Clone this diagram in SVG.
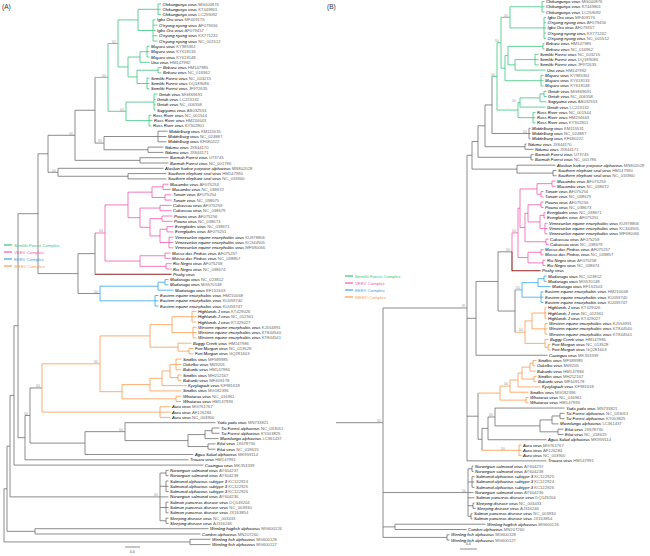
<svg xmlns="http://www.w3.org/2000/svg" width="650" height="556" viewBox="0 0 650 556">
<style>
text{font-family:"Liberation Sans",Arial,sans-serif}
.t{font-size:4.2px;font-style:italic;fill:#000}
.ac{font-style:normal;fill:#6a6a6a}
.bs{font-size:2.6px;fill:#9a9a9a;text-anchor:end}
.lg{font-size:4.3px}
.pl{font-size:6.5px;fill:#333}
.sc{font-size:3.4px;fill:#444}
path{fill:none;stroke-width:0.8}
.gy{stroke:#6f6f6f}.gr{stroke:#3cc47e}.pk{stroke:#ee5aae}.bl{stroke:#37a3e6}.or{stroke:#f99b4e}.dr{stroke:#8e1c1c;stroke-width:1.1}
</style>
<rect width="650" height="556" fill="#fff"/>
<text class="pl" x="2" y="9">(A)</text>
<text class="pl" x="327" y="9">(B)</text>

<g id="connectors-A">
<path class="gr" d="M161 4H158V14.6H161M158 9.3H161M155.5 19.9H153V41.1H157.5M153 25.2H157.5M153 30.5H155.5M153 35.8H157.5M158 9.3H138V30.5H153M149.5 46.4H147V57H149.5M147 51.7H149.5M147 51.7H140V62.3H149.5M161.5 67.6H158V72.9H161.5M149.5 78.2H147V88.8H149.5M147 83.5H149.5M158 70.25H137V83.5H147M140 57H128V76.9H137M138 19.9H118V67H128M157.5 94.1H154V110H155.5M154 99.4H155.5M154 104.7H155.5M151.5 115.3H149V125.9H151.5M149 120.6H152.5M154 102.05H126V120.6H149M118 43.5H108V111.3H126M95 77.4H108"/>
<path class="gy" d="M167.5 131.2H158V141.8H166.5M158 136.5H166.5M163.5 147.1H148V152.4H163.5M158 136.5H104V149.75H148M95 77.4V143.1H104M95 110.25H75V160.35H140M168.5 157.7H140V163H168.5M163.5 168.3H58V176.25H128M166.5 173.6H128V178.9H166.5M75 135.3H48V172.3H58M95 233V274.3M95 253.65H78V293.5H100M219.5 428H212V433.3H219.5M212 430.65H205V438.6H218.5M215.5 443.9H208V449.2H215.5M205 434.6H188V446.55H208M215.5 422.7H125V440.6H188M125 431.65H85V454.5H193.5M42 387.95H30V443.1H85M30 415.5H25V459.8H188.5M48 153.8H38V273.6H78M38 213.7H18V437.65H25M18 325.7H14V465.1H203.5M168.5 470.4H166V475.7H168.5M168.5 481H166V491.6H168.5M166 486.3H168.5M168.5 502.2H166V512.8H168.5M166 507.5H168.5M168.5 518.1H166V523.4H168.5M166 473.05H160V520.75H166M160 486.3H166M160 496.9H168.5M160 507.5H166M14 395.4H10V496.9H160M208.5 528.7H35V534H200.5M210.5 539.3H190V544.6H210.5M10 446.15H7V531.35H35M7 488.75H4V541.95H190"/>
<path class="pk" d="M168.5 184.2H163V189.5H170.5M171.5 194.8H165V200.1H171.5M163 186.85H152V197.45H165M171.5 205.4H160V210.7H171.5M172.5 216H162V221.3H172.5M173.5 226.6H167V231.9H173.5M173.5 237.2H169V247.8H173.5M169 242.5H173.5M167 229.25H160V242.5H169M162 218.65H150V235.9H160M160 208.05H140V227.3H150M152 192.15H128V217.7H140M170.5 253.1H165V258.4H170.5M171.5 263.7H166V269H171.5M165 255.75H140V266.35H166M128 204.9H105V261.05H140M95 233H105"/>
<path class="dr" d="M95 274.3H171.5"/>
<path class="bl" d="M168.5 279.6H165V284.9H168.5M165 282.25H158V290.2H173.5M158.5 295.5H155V306.1H158.5M155 300.8H158.5M158 286.2H100V300.8H155"/>
<path class="or" d="M196.5 311.4H192V322H196.5M192 316.7H196.5M196.5 327.3H193V337.9H196.5M193 332.6H196.5M192 316.7H172V332.6H193M193.5 348.5H189V353.8H193.5M191.5 343.2H178V351.15H189M172 324.65H150V347.2H178M181.5 359.1H176V369.7H181.5M176 364.4H181.5M181.5 375H178V380.3H181.5M176 364.4H170V377.65H178M170 371H162V385.6H186.5M162 378.3H150V390.9H181.5M181.5 396.2H176V401.5H181.5M150 384.6H122V398.85H176M150 335.9H100V391.7H122M170.5 406.8H160V417.4H170.5M160 412.1H170.5M100 363.8H42V412.1H160"/>
<path class="gy" d="M125 547H140"/>
</g>

<g id="bootstrap-A">
<text class="bs" x="106" y="76.6">100</text>
<text class="bs" x="116" y="42.7">100</text>
<text class="bs" x="124" y="110.5">100</text>
<text class="bs" x="102" y="142.3">100</text>
<text class="bs" x="73" y="134.5">100</text>
<text class="bs" x="56" y="171.5">100</text>
<text class="bs" x="103" y="232.2">100</text>
<text class="bs" x="98" y="292.7">100</text>
<text class="bs" x="98" y="363">100</text>
<text class="bs" x="40" y="387.2">100</text>
<text class="bs" x="123" y="430.9">100</text>
<text class="bs" x="158" y="496.1">100</text>
<text class="bs" x="28" y="414.7">100</text>
</g>

<g id="legend-A">
<path class="gr" d="M4 245H12" style="stroke-width:1.2"/>
<path class="pk" d="M4 252H12" style="stroke-width:1.2"/>
<path class="bl" d="M4 259H12" style="stroke-width:1.2"/>
<path class="or" d="M4 266H12" style="stroke-width:1.2"/>
<text class="lg" x="14" y="246.5" fill="#3cc47e">Semliki Forest Complex</text>
<text class="lg" x="14" y="253.5" fill="#ee5aae">VEEV Complex</text>
<text class="lg" x="14" y="260.5" fill="#37a3e6">EEEV Complex</text>
<text class="lg" x="14" y="267.5" fill="#f99b4e">WEEV Complex</text>
<text class="sc" x="130" y="553">0.4</text>
</g>

<g id="tips-A">
<g id="a1"><text class="t" x="162.5" y="5.5">Chikungunya virus <tspan class="ac">MG000876</tspan></text></g>
<g id="a2"><text class="t" x="162.5" y="10.8">Chikungunya virus <tspan class="ac">KT449801</tspan></text></g>
<g id="a3"><text class="t" x="162.5" y="16.1">Chikungunya virus <tspan class="ac">LC259092</tspan></text></g>
<g id="a4"><text class="t" x="157" y="21.4">Igbo Ora virus <tspan class="ac">MF409176</tspan></text></g>
<g id="a5"><text class="t" x="159" y="26.7">O'nyong nyong virus <tspan class="ac">AF079456</tspan></text></g>
<g id="a6"><text class="t" x="157" y="32">Igbo Ora virus <tspan class="ac">AF079457</tspan></text></g>
<g id="a7"><text class="t" x="159" y="37.3">O'nyong nyong virus <tspan class="ac">KX771232</tspan></text></g>
<g id="a8"><text class="t" x="159" y="42.6">O'nyong nyong virus <tspan class="ac">NC_001512</tspan></text></g>
<g id="a9"><text class="t" x="151" y="47.9">Mayaro virus <tspan class="ac">KY985361</tspan></text></g>
<g id="a10"><text class="t" x="151" y="53.2">Mayaro virus <tspan class="ac">KY618133</tspan></text></g>
<g id="a11"><text class="t" x="151" y="58.5">Mayaro virus <tspan class="ac">KY618148</tspan></text></g>
<g id="a12"><text class="t" x="151" y="63.8">Una virus <tspan class="ac">HM147992</tspan></text></g>
<g id="a13"><text class="t" x="163" y="69.1">Bebaru virus <tspan class="ac">HM147985</tspan></text></g>
<g id="a14"><text class="t" x="163" y="74.4">Bebaru virus <tspan class="ac">NC_016962</tspan></text></g>
<g id="a15"><text class="t" x="151" y="79.7">Semliki Forest virus <tspan class="ac">NC_003215</tspan></text></g>
<g id="a16"><text class="t" x="151" y="85">Semliki Forest virus <tspan class="ac">DQ189086</tspan></text></g>
<g id="a17"><text class="t" x="151" y="90.3">Semliki Forest virus <tspan class="ac">JF972635</tspan></text></g>
<g id="a18"><text class="t" x="159" y="95.6">Getah virus <tspan class="ac">MG869691</tspan></text></g>
<g id="a19"><text class="t" x="157" y="100.9">Getah virus <tspan class="ac">LC223132</tspan></text></g>
<g id="a20"><text class="t" x="157" y="106.2">Getah virus <tspan class="ac">NC_006558</tspan></text></g>
<g id="a21"><text class="t" x="157" y="111.5">Sagiyama virus <tspan class="ac">AB032553</tspan></text></g>
<g id="a22"><text class="t" x="153" y="116.8">Ross River virus <tspan class="ac">NC_001544</tspan></text></g>
<g id="a23"><text class="t" x="154" y="122.1">Ross River virus <tspan class="ac">HM234643</tspan></text></g>
<g id="a24"><text class="t" x="153" y="127.4">Ross River virus <tspan class="ac">KY302801</tspan></text></g>
<g id="a25"><text class="t" x="169" y="132.7">Middelburg virus <tspan class="ac">KM115531</tspan></text></g>
<g id="a26"><text class="t" x="168" y="138">Middelburg virus <tspan class="ac">NC_024887</tspan></text></g>
<g id="a27"><text class="t" x="168" y="143.3">Middelburg virus <tspan class="ac">KF680222</tspan></text></g>
<g id="a28"><text class="t" x="165" y="148.6">Ndumu virus <tspan class="ac">JX844170</tspan></text></g>
<g id="a29"><text class="t" x="165" y="153.9">Ndumu virus <tspan class="ac">JX844171</tspan></text></g>
<g id="a30"><text class="t" x="170" y="159.2">Barmah Forest virus <tspan class="ac">U73745</tspan></text></g>
<g id="a31"><text class="t" x="170" y="164.5">Barmah Forest virus <tspan class="ac">NC_001786</tspan></text></g>
<g id="a32"><text class="t" x="165" y="169.8">Alaskan harbor porpoise alphavirus <tspan class="ac">MN802028</tspan></text></g>
<g id="a33"><text class="t" x="168" y="175.1">Southern elephant seal virus <tspan class="ac">HM147990</tspan></text></g>
<g id="a34"><text class="t" x="168" y="180.4">Southern elephant seal virus <tspan class="ac">NC_016960</tspan></text></g>
<g id="a35"><text class="t" x="170" y="185.7">Mucambo virus <tspan class="ac">AF075253</tspan></text></g>
<g id="a36"><text class="t" x="172" y="191">Mucambo virus <tspan class="ac">NC_038672</tspan></text></g>
<g id="a37"><text class="t" x="173" y="196.3">Tonate virus <tspan class="ac">AF075254</tspan></text></g>
<g id="a38"><text class="t" x="173" y="201.6">Tonate virus <tspan class="ac">NC_038675</tspan></text></g>
<g id="a39"><text class="t" x="173" y="206.9">Cabassou virus <tspan class="ac">AF075259</tspan></text></g>
<g id="a40"><text class="t" x="173" y="212.2">Cabassou virus <tspan class="ac">NC_038679</tspan></text></g>
<g id="a41"><text class="t" x="174" y="217.5">Pixuna virus <tspan class="ac">AF075256</tspan></text></g>
<g id="a42"><text class="t" x="174" y="222.8">Pixuna virus <tspan class="ac">NC_038673</tspan></text></g>
<g id="a43"><text class="t" x="175" y="228.1">Everglades virus <tspan class="ac">NC_038671</tspan></text></g>
<g id="a44"><text class="t" x="175" y="233.4">Everglades virus <tspan class="ac">AF075251</tspan></text></g>
<g id="a45"><text class="t" x="175" y="238.7">Venezuelan equine encephalitis virus <tspan class="ac">KU978806</tspan></text></g>
<g id="a46"><text class="t" x="175" y="244">Venezuelan equine encephalitis virus <tspan class="ac">KC344505</tspan></text></g>
<g id="a47"><text class="t" x="175" y="249.3">Venezuelan equine encephalitis virus <tspan class="ac">MF590066</tspan></text></g>
<g id="a48"><text class="t" x="172" y="254.6">Mosso das Pedras virus <tspan class="ac">AF075257</tspan></text></g>
<g id="a49"><text class="t" x="172" y="259.9">Mosso das Pedras virus <tspan class="ac">NC_038857</tspan></text></g>
<g id="a50"><text class="t" x="173" y="265.2">Rio Negro virus <tspan class="ac">AF075258</tspan></text></g>
<g id="a51"><text class="t" x="173" y="270.5">Rio Negro virus <tspan class="ac">NC_038674</tspan></text></g>
<g id="a52"><text class="t" x="173" y="275.8">Pirahy virus</text></g>
<g id="a53"><text class="t" x="170" y="281.1">Madariaga virus <tspan class="ac">NC_023812</tspan></text></g>
<g id="a54"><text class="t" x="170" y="286.4">Madariaga virus <tspan class="ac">MG570148</tspan></text></g>
<g id="a55"><text class="t" x="175" y="291.7">Madariaga virus <tspan class="ac">EF151503</tspan></text></g>
<g id="a56"><text class="t" x="160" y="297">Eastern equine encephalitis virus <tspan class="ac">HM210068</tspan></text></g>
<g id="a57"><text class="t" x="160" y="302.3">Eastern equine encephalitis virus <tspan class="ac">KU059740</tspan></text></g>
<g id="a58"><text class="t" x="160" y="307.6">Eastern equine encephalitis virus <tspan class="ac">KU059747</tspan></text></g>
<g id="a59"><text class="t" x="198" y="312.9">Highlands J virus <tspan class="ac">KT429026</tspan></text></g>
<g id="a60"><text class="t" x="198" y="318.2">Highlands J virus <tspan class="ac">NC_012561</tspan></text></g>
<g id="a61"><text class="t" x="198" y="323.5">Highlands J virus <tspan class="ac">KT429027</tspan></text></g>
<g id="a62"><text class="t" x="198" y="328.8">Western equine encephalitis virus <tspan class="ac">KJ554991</tspan></text></g>
<g id="a63"><text class="t" x="198" y="334.1">Western equine encephalitis virus <tspan class="ac">KT844540</tspan></text></g>
<g id="a64"><text class="t" x="198" y="339.4">Western equine encephalitis virus <tspan class="ac">KT844541</tspan></text></g>
<g id="a65"><text class="t" x="193" y="344.7">Buggy Creek virus <tspan class="ac">HM147986</tspan></text></g>
<g id="a66"><text class="t" x="195" y="350">Fort Morgan virus <tspan class="ac">NC_013528</tspan></text></g>
<g id="a67"><text class="t" x="195" y="355.3">Fort Morgan virus <tspan class="ac">GQ281603</tspan></text></g>
<g id="a68"><text class="t" x="183" y="360.6">Sindbis virus <tspan class="ac">MF589985</tspan></text></g>
<g id="a69"><text class="t" x="183" y="365.9">Ockelbo virus <tspan class="ac">M69205</tspan></text></g>
<g id="a70"><text class="t" x="183" y="371.2">Babanki virus <tspan class="ac">HM147984</tspan></text></g>
<g id="a71"><text class="t" x="183" y="376.5">Sindbis virus <tspan class="ac">MH212167</tspan></text></g>
<g id="a72"><text class="t" x="183" y="381.8">Babanki virus <tspan class="ac">MF409178</tspan></text></g>
<g id="a73"><text class="t" x="188" y="387.1">Kyzylagach virus <tspan class="ac">KF981618</tspan></text></g>
<g id="a74"><text class="t" x="183" y="392.4">Sindbis virus <tspan class="ac">MG182396</tspan></text></g>
<g id="a75"><text class="t" x="183" y="397.7">Whataroa virus <tspan class="ac">NC_016961</tspan></text></g>
<g id="a76"><text class="t" x="183" y="403">Whataroa virus <tspan class="ac">HM147993</tspan></text></g>
<g id="a77"><text class="t" x="172" y="408.3">Aura virus <tspan class="ac">MG761767</tspan></text></g>
<g id="a78"><text class="t" x="172" y="413.6">Aura virus <tspan class="ac">AF126284</tspan></text></g>
<g id="a79"><text class="t" x="172" y="418.9">Aura virus <tspan class="ac">NC_003900</tspan></text></g>
<g id="a80"><text class="t" x="217" y="424.2">Yada yada virus <tspan class="ac">MN733821</tspan></text></g>
<g id="a81"><text class="t" x="221" y="429.5">Tai Forest alphavirus <tspan class="ac">NC_033051</tspan></text></g>
<g id="a82"><text class="t" x="221" y="434.8">Tai Forest alphavirus <tspan class="ac">KY003825</tspan></text></g>
<g id="a83"><text class="t" x="220" y="440.1">Mwinilunga alphavirus <tspan class="ac">LC361437</tspan></text></g>
<g id="a84"><text class="t" x="217" y="445.4">Eilat virus <tspan class="ac">JX678730</tspan></text></g>
<g id="a85"><text class="t" x="217" y="450.7">Eilat virus <tspan class="ac">NC_018615</tspan></text></g>
<g id="a86"><text class="t" x="195" y="456">Agua Salud alphavirus <tspan class="ac">MK959114</tspan></text></g>
<g id="a87"><text class="t" x="190" y="461.3">Trocara virus <tspan class="ac">HM147991</tspan></text></g>
<g id="a88"><text class="t" x="205" y="466.6">Caaingua virus <tspan class="ac">MK353339</tspan></text></g>
<g id="a89"><text class="t" x="170" y="471.9">Norwegian salmonid virus <tspan class="ac">AY604237</tspan></text></g>
<g id="a90"><text class="t" x="170" y="477.2">Norwegian salmonid virus <tspan class="ac">AY604238</tspan></text></g>
<g id="a91"><text class="t" x="170" y="482.5">Salmonid alphavirus subtype 3 <tspan class="ac">KC122924</tspan></text></g>
<g id="a92"><text class="t" x="170" y="487.8">Salmonid alphavirus subtype 3 <tspan class="ac">KC122925</tspan></text></g>
<g id="a93"><text class="t" x="170" y="493.1">Salmonid alphavirus subtype 3 <tspan class="ac">KC122926</tspan></text></g>
<g id="a94"><text class="t" x="170" y="498.4">Norwegian salmonid virus <tspan class="ac">AY604236</tspan></text></g>
<g id="a95"><text class="t" x="170" y="503.7">Salmon pancreas disease virus <tspan class="ac">DQ149204</tspan></text></g>
<g id="a96"><text class="t" x="170" y="509">Salmon pancreas disease virus <tspan class="ac">NC_003930</tspan></text></g>
<g id="a97"><text class="t" x="170" y="514.3">Salmon pancreas disease virus <tspan class="ac">JX163854</tspan></text></g>
<g id="a98"><text class="t" x="170" y="519.6">Sleeping disease virus <tspan class="ac">NC_003433</tspan></text></g>
<g id="a99"><text class="t" x="170" y="524.9">Sleeping disease virus <tspan class="ac">AJ316246</tspan></text></g>
<g id="a100"><text class="t" x="210" y="530.2">Wenling hagfish alphavirus <tspan class="ac">MG600126</tspan></text></g>
<g id="a101"><text class="t" x="202" y="535.5">Combei alphavirus <tspan class="ac">MN207260</tspan></text></g>
<g id="a102"><text class="t" x="212" y="540.8">Wenling fish alphavirus <tspan class="ac">MG600128</tspan></text></g>
<g id="a103"><text class="t" x="212" y="546.1">Wenling fish alphavirus <tspan class="ac">MG600127</tspan></text></g>
</g>

<g id="connectors-B">
<path class="gr" d="M544.5 1.5H542V12.06H544.5M542 6.78H544.5M546 17.34H544V38.46H546M544 22.62H546M544 27.9H546M544 33.18H546M542 6.78H510V27.9H544M544.5 43.74H543V49.02H544.5M538.5 54.3H535V64.86H538.5M535 59.58H538.5M535 59.58H515V70.14H545.5M543 46.38H508V64.86H515M543.5 75.42H541V85.98H543.5M541 80.7H543.5M508 55.62H505V80.7H541M510 17.34H501V68.16H505M546.5 91.26H544V96.54H546.5M544 93.9H540V101.82H546.5M540 97.86H520V107.1H545.5M535.5 112.38H533V122.94H535.5M533 117.66H535.5M520 102.48H518V117.66H533M501 42.75H497V110.07H518M492 76.4H497"/>
<path class="gy" d="M530.5 128.22H529V138.78H530.5M529 133.5H530.5M492 76.4V133.5H529M526.5 144.06H525V149.34H533.5M492 104.95H485V146.7H525M533.5 154.62H531V159.9H533.5M556.5 170.46H553V175.74H556.5M555.5 165.18H517V173.1H553M485 125.8H478V157.26H531M478 141.53H472V169.14H517M512 251.84H498V311.04H515M515 289.92V332.16M498 281.44H476V355.26H547.5M472 155.3H467V460.86H546.5M467 318.35H476M467 416.2H478M564.5 413.34H560V418.62H564.5M560 415.98H552V423.9H558.5M563.5 429.18H558V434.46H563.5M552 419.94H540V431.82H558M564.5 408.06H495V425.88H540M495 416.97H488V439.74H546.5M488 428.36H482V450.3M478 393.1V439.3H482M473.5 466.14H472V471.42H473.5M474.5 476.7H472V487.26H474.5M472 481.98H474.5M474.5 503.1H473V508.38H475.5M472.5 513.66H471V518.94H472.5M472 468.78H468V516.3H471M468 481.98H472M468 492.54H473.5M468 497.82H474.5M468 505.74H473M449.5 534.78H447V540.06H449.5M336 422.7H383M383 308H467M383 308V537.42H447M383 492.54H468M485.5 524.22H395V529.5H466.5M383 526.86H395"/>
<path class="pk" d="M555.5 181.02H552V186.3H555.5M543.5 191.58H541V196.86H543.5M552 183.66H537V194.22H541M543.5 202.14H541V207.42H543.5M545.5 212.7H544V217.98H545.5M547.5 223.26H545V233.82H547.5M545 228.54H547.5M544 215.34H540V228.54H545M541 204.78H528V221.94H540M548.5 239.1H546V244.38H548.5M528 213.36H525V241.74H546M537 188.94H520V227.55H525M543.5 249.66H541V254.94H543.5M545.5 260.22H543V265.5H545.5M541 252.3H528V262.86H543M520 208.2H518V257.58H528M518 232.9H512V251.84"/>
<path class="dr" d="M512 251.84V270.78H540.5"/>
<path class="bl" d="M546.5 276.06H544V281.34H546.5M544 278.7H538V286.62H550.5M543.5 291.9H541V302.46H543.5M541 297.18H543.5M538 282.66H522V297.18H541M515 289.92H522"/>
<path class="or" d="M546.5 307.74H545V318.3H546.5M545 313.02H546.5M547.5 323.58H545V334.14H547.5M545 328.86H547.5M545 313.02H532V328.86H545M550.5 344.7H548V349.98H550.5M548.5 339.42H545V347.34H548M532 320.94H525V343.38H545M515 332.16H525M536.5 360.54H533V365.82H535.5M533 363.18H530V371.1H535.5M536.5 376.38H534V381.66H536.5M530 367.14H522V379.02H534M522 373.08H518V386.94H540.5M518 380.01H510V392.22H528.5M528.5 397.5H526V402.78H528.5M510 386.1H500V400.14H526M478 393.1H500M521.5 445.02H519V455.58H521.5M519 450.3H521.5M482 450.3H519"/>
<path class="gy" d="M460 549H477"/>
</g>

<g id="bootstrap-B">
<text class="bs" x="508" y="16.5">100</text>
<text class="bs" x="499" y="42">100</text>
<text class="bs" x="495" y="75.6">100</text>
<text class="bs" x="516" y="101.7">100</text>
<text class="bs" x="527" y="132.7">100</text>
<text class="bs" x="516" y="232.1">100</text>
<text class="bs" x="510" y="251">100</text>
<text class="bs" x="520" y="289.1">100</text>
<text class="bs" x="523" y="331.4">100</text>
<text class="bs" x="508" y="385.3">100</text>
<text class="bs" x="505" y="449.5">100</text>
<text class="bs" x="493" y="416.2">100</text>
<text class="bs" x="466" y="491.7">100</text>
<text class="bs" x="465" y="307.2">88</text>
<text class="bs" x="381" y="421.9">100</text>
</g>

<g id="legend-B">
<path class="gr" d="M345 276H353" style="stroke-width:1.2"/>
<path class="pk" d="M345 283H353" style="stroke-width:1.2"/>
<path class="bl" d="M345 290H353" style="stroke-width:1.2"/>
<path class="or" d="M345 297H353" style="stroke-width:1.2"/>
<text class="lg" x="355" y="277.5" fill="#3cc47e">Semliki Forest Complex</text>
<text class="lg" x="355" y="284.5" fill="#ee5aae">VEEV Complex</text>
<text class="lg" x="355" y="291.5" fill="#37a3e6">EEEV Complex</text>
<text class="lg" x="355" y="298.5" fill="#f99b4e">WEEV Complex</text>
<text class="sc" x="466" y="545">0.4</text>
</g>

<g id="tips-B">
<g id="b1"><text class="t" x="546" y="3">Chikungunya virus <tspan class="ac">MG000876</tspan></text></g>
<g id="b2"><text class="t" x="546" y="8.28">Chikungunya virus <tspan class="ac">KT449801</tspan></text></g>
<g id="b3"><text class="t" x="546" y="13.56">Chikungunya virus <tspan class="ac">LC259092</tspan></text></g>
<g id="b4"><text class="t" x="547.5" y="18.84">Igbo Ora virus <tspan class="ac">MF409176</tspan></text></g>
<g id="b5"><text class="t" x="547.5" y="24.12">O'nyong nyong virus <tspan class="ac">AF079456</tspan></text></g>
<g id="b6"><text class="t" x="547.5" y="29.4">Igbo Ora virus <tspan class="ac">AF079457</tspan></text></g>
<g id="b7"><text class="t" x="547.5" y="34.68">O'nyong nyong virus <tspan class="ac">KX771232</tspan></text></g>
<g id="b8"><text class="t" x="547.5" y="39.96">O'nyong nyong virus <tspan class="ac">NC_001512</tspan></text></g>
<g id="b9"><text class="t" x="546" y="45.24">Bebaru virus <tspan class="ac">HM147985</tspan></text></g>
<g id="b10"><text class="t" x="546" y="50.52">Bebaru virus <tspan class="ac">NC_016962</tspan></text></g>
<g id="b11"><text class="t" x="540" y="55.8">Semliki Forest virus <tspan class="ac">NC_003215</tspan></text></g>
<g id="b12"><text class="t" x="540" y="61.08">Semliki Forest virus <tspan class="ac">DQ189086</tspan></text></g>
<g id="b13"><text class="t" x="540" y="66.36">Semliki Forest virus <tspan class="ac">JF972635</tspan></text></g>
<g id="b14"><text class="t" x="547" y="71.64">Una virus <tspan class="ac">HM147992</tspan></text></g>
<g id="b15"><text class="t" x="545" y="76.92">Mayaro virus <tspan class="ac">KY985361</tspan></text></g>
<g id="b16"><text class="t" x="545" y="82.2">Mayaro virus <tspan class="ac">KY618133</tspan></text></g>
<g id="b17"><text class="t" x="545" y="87.48">Mayaro virus <tspan class="ac">KY618148</tspan></text></g>
<g id="b18"><text class="t" x="548" y="92.76">Getah virus <tspan class="ac">MG869691</tspan></text></g>
<g id="b19"><text class="t" x="548" y="98.04">Getah virus <tspan class="ac">NC_006558</tspan></text></g>
<g id="b20"><text class="t" x="548" y="103.32">Sagiyama virus <tspan class="ac">AB032553</tspan></text></g>
<g id="b21"><text class="t" x="547" y="108.6">Getah virus <tspan class="ac">LC223132</tspan></text></g>
<g id="b22"><text class="t" x="537" y="113.88">Ross River virus <tspan class="ac">NC_001544</tspan></text></g>
<g id="b23"><text class="t" x="537" y="119.16">Ross River virus <tspan class="ac">HM234643</tspan></text></g>
<g id="b24"><text class="t" x="537" y="124.44">Ross River virus <tspan class="ac">KY302801</tspan></text></g>
<g id="b25"><text class="t" x="532" y="129.72">Middelburg virus <tspan class="ac">KM115531</tspan></text></g>
<g id="b26"><text class="t" x="532" y="135">Middelburg virus <tspan class="ac">NC_024887</tspan></text></g>
<g id="b27"><text class="t" x="532" y="140.28">Middelburg virus <tspan class="ac">KF680222</tspan></text></g>
<g id="b28"><text class="t" x="528" y="145.56">Ndumu virus <tspan class="ac">JX844170</tspan></text></g>
<g id="b29"><text class="t" x="535" y="150.84">Ndumu virus <tspan class="ac">JX844171</tspan></text></g>
<g id="b30"><text class="t" x="535" y="156.12">Barmah Forest virus <tspan class="ac">U73745</tspan></text></g>
<g id="b31"><text class="t" x="535" y="161.4">Barmah Forest virus <tspan class="ac">NC_001786</tspan></text></g>
<g id="b32"><text class="t" x="557" y="166.68">Alaskan harbor porpoise alphavirus <tspan class="ac">MN802028</tspan></text></g>
<g id="b33"><text class="t" x="558" y="171.96">Southern elephant seal virus <tspan class="ac">HM147990</tspan></text></g>
<g id="b34"><text class="t" x="558" y="177.24">Southern elephant seal virus <tspan class="ac">NC_016960</tspan></text></g>
<g id="b35"><text class="t" x="557" y="182.52">Mucambo virus <tspan class="ac">AF075253</tspan></text></g>
<g id="b36"><text class="t" x="557" y="187.8">Mucambo virus <tspan class="ac">NC_038672</tspan></text></g>
<g id="b37"><text class="t" x="545" y="193.08">Tonate virus <tspan class="ac">AF075254</tspan></text></g>
<g id="b38"><text class="t" x="545" y="198.36">Tonate virus <tspan class="ac">NC_038675</tspan></text></g>
<g id="b39"><text class="t" x="545" y="203.64">Pixuna virus <tspan class="ac">AF075256</tspan></text></g>
<g id="b40"><text class="t" x="545" y="208.92">Pixuna virus <tspan class="ac">NC_038673</tspan></text></g>
<g id="b41"><text class="t" x="547" y="214.2">Everglades virus <tspan class="ac">NC_038671</tspan></text></g>
<g id="b42"><text class="t" x="547" y="219.48">Everglades virus <tspan class="ac">AF075251</tspan></text></g>
<g id="b43"><text class="t" x="549" y="224.76">Venezuelan equine encephalitis virus <tspan class="ac">KU978806</tspan></text></g>
<g id="b44"><text class="t" x="549" y="230.04">Venezuelan equine encephalitis virus <tspan class="ac">KC344505</tspan></text></g>
<g id="b45"><text class="t" x="549" y="235.32">Venezuelan equine encephalitis virus <tspan class="ac">MF590066</tspan></text></g>
<g id="b46"><text class="t" x="550" y="240.6">Cabassou virus <tspan class="ac">AF075259</tspan></text></g>
<g id="b47"><text class="t" x="550" y="245.88">Cabassou virus <tspan class="ac">NC_038679</tspan></text></g>
<g id="b48"><text class="t" x="545" y="251.16">Mosso das Pedras virus <tspan class="ac">AF075257</tspan></text></g>
<g id="b49"><text class="t" x="545" y="256.44">Mosso das Pedras virus <tspan class="ac">NC_038857</tspan></text></g>
<g id="b50"><text class="t" x="547" y="261.72">Rio Negro virus <tspan class="ac">AF075258</tspan></text></g>
<g id="b51"><text class="t" x="547" y="267">Rio Negro virus <tspan class="ac">NC_038674</tspan></text></g>
<g id="b52"><text class="t" x="542" y="272.28">Pirahy virus</text></g>
<g id="b53"><text class="t" x="548" y="277.56">Madariaga virus <tspan class="ac">NC_023812</tspan></text></g>
<g id="b54"><text class="t" x="548" y="282.84">Madariaga virus <tspan class="ac">MG570148</tspan></text></g>
<g id="b55"><text class="t" x="552" y="288.12">Madariaga virus <tspan class="ac">EF151503</tspan></text></g>
<g id="b56"><text class="t" x="545" y="293.4">Eastern equine encephalitis virus <tspan class="ac">HM210068</tspan></text></g>
<g id="b57"><text class="t" x="545" y="298.68">Eastern equine encephalitis virus <tspan class="ac">KU059740</tspan></text></g>
<g id="b58"><text class="t" x="545" y="303.96">Eastern equine encephalitis virus <tspan class="ac">KU059747</tspan></text></g>
<g id="b59"><text class="t" x="548" y="309.24">Highlands J virus <tspan class="ac">KT429026</tspan></text></g>
<g id="b60"><text class="t" x="548" y="314.52">Highlands J virus <tspan class="ac">NC_012561</tspan></text></g>
<g id="b61"><text class="t" x="548" y="319.8">Highlands J virus <tspan class="ac">KT429027</tspan></text></g>
<g id="b62"><text class="t" x="549" y="325.08">Western equine encephalitis virus <tspan class="ac">KJ554991</tspan></text></g>
<g id="b63"><text class="t" x="549" y="330.36">Western equine encephalitis virus <tspan class="ac">KT844540</tspan></text></g>
<g id="b64"><text class="t" x="549" y="335.64">Western equine encephalitis virus <tspan class="ac">KT844541</tspan></text></g>
<g id="b65"><text class="t" x="550" y="340.92">Buggy Creek virus <tspan class="ac">HM147986</tspan></text></g>
<g id="b66"><text class="t" x="552" y="346.2">Fort Morgan virus <tspan class="ac">NC_013528</tspan></text></g>
<g id="b67"><text class="t" x="552" y="351.48">Fort Morgan virus <tspan class="ac">GQ281603</tspan></text></g>
<g id="b68"><text class="t" x="549" y="356.76">Caaingua virus <tspan class="ac">MK353339</tspan></text></g>
<g id="b69"><text class="t" x="538" y="362.04">Sindbis virus <tspan class="ac">MF589985</tspan></text></g>
<g id="b70"><text class="t" x="537" y="367.32">Ockelbo virus <tspan class="ac">M69205</tspan></text></g>
<g id="b71"><text class="t" x="537" y="372.6">Babanki virus <tspan class="ac">HM147984</tspan></text></g>
<g id="b72"><text class="t" x="538" y="377.88">Sindbis virus <tspan class="ac">MH212167</tspan></text></g>
<g id="b73"><text class="t" x="538" y="383.16">Babanki virus <tspan class="ac">MF409178</tspan></text></g>
<g id="b74"><text class="t" x="542" y="388.44">Kyzylagach virus <tspan class="ac">KF981618</tspan></text></g>
<g id="b75"><text class="t" x="530" y="393.72">Sindbis virus <tspan class="ac">MG182396</tspan></text></g>
<g id="b76"><text class="t" x="530" y="399">Whataroa virus <tspan class="ac">NC_016961</tspan></text></g>
<g id="b77"><text class="t" x="530" y="404.28">Whataroa virus <tspan class="ac">HM147993</tspan></text></g>
<g id="b78"><text class="t" x="566" y="409.56">Yada yada virus <tspan class="ac">MN733821</tspan></text></g>
<g id="b79"><text class="t" x="566" y="414.84">Tai Forest alphavirus <tspan class="ac">NC_033051</tspan></text></g>
<g id="b80"><text class="t" x="566" y="420.12">Tai Forest alphavirus <tspan class="ac">KY003825</tspan></text></g>
<g id="b81"><text class="t" x="560" y="425.4">Mwinilunga alphavirus <tspan class="ac">LC361437</tspan></text></g>
<g id="b82"><text class="t" x="565" y="430.68">Eilat virus <tspan class="ac">JX678730</tspan></text></g>
<g id="b83"><text class="t" x="565" y="435.96">Eilat virus <tspan class="ac">NC_018615</tspan></text></g>
<g id="b84"><text class="t" x="548" y="441.24">Agua Salud alphavirus <tspan class="ac">MK959114</tspan></text></g>
<g id="b85"><text class="t" x="523" y="446.52">Aura virus <tspan class="ac">MG761767</tspan></text></g>
<g id="b86"><text class="t" x="523" y="451.8">Aura virus <tspan class="ac">AF126284</tspan></text></g>
<g id="b87"><text class="t" x="523" y="457.08">Aura virus <tspan class="ac">NC_003900</tspan></text></g>
<g id="b88"><text class="t" x="548" y="462.36">Trocara virus <tspan class="ac">HM147991</tspan></text></g>
<g id="b89"><text class="t" x="475" y="467.64">Norwegian salmonid virus <tspan class="ac">AY604237</tspan></text></g>
<g id="b90"><text class="t" x="475" y="472.92">Norwegian salmonid virus <tspan class="ac">AY604238</tspan></text></g>
<g id="b91"><text class="t" x="476" y="478.2">Salmonid alphavirus subtype 3 <tspan class="ac">KC122925</tspan></text></g>
<g id="b92"><text class="t" x="476" y="483.48">Salmonid alphavirus subtype 3 <tspan class="ac">KC122924</tspan></text></g>
<g id="b93"><text class="t" x="476" y="488.76">Salmonid alphavirus subtype 3 <tspan class="ac">KC122926</tspan></text></g>
<g id="b94"><text class="t" x="475" y="494.04">Norwegian salmonid virus <tspan class="ac">AY604236</tspan></text></g>
<g id="b95"><text class="t" x="476" y="499.32">Salmon pancreas disease virus <tspan class="ac">DQ149204</tspan></text></g>
<g id="b96"><text class="t" x="476" y="504.6">Sleeping disease virus <tspan class="ac">NC_003433</tspan></text></g>
<g id="b97"><text class="t" x="477" y="509.88">Sleeping disease virus <tspan class="ac">AJ316246</tspan></text></g>
<g id="b98"><text class="t" x="474" y="515.16">Salmon pancreas disease virus <tspan class="ac">NC_003930</tspan></text></g>
<g id="b99"><text class="t" x="474" y="520.44">Salmon pancreas disease virus <tspan class="ac">JX163854</tspan></text></g>
<g id="b100"><text class="t" x="487" y="525.72">Wenling hagfish alphavirus <tspan class="ac">MG600126</tspan></text></g>
<g id="b101"><text class="t" x="468" y="531">Combei alphavirus <tspan class="ac">MN207260</tspan></text></g>
<g id="b102"><text class="t" x="451" y="536.28">Wenling fish alphavirus <tspan class="ac">MG600128</tspan></text></g>
<g id="b103"><text class="t" x="451" y="541.56">Wenling fish alphavirus <tspan class="ac">MG600127</tspan></text></g>
</g>
</svg>
